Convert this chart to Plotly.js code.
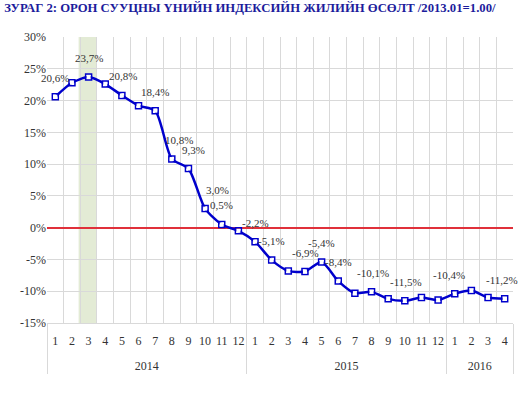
<!DOCTYPE html>
<html>
<head>
<meta charset="utf-8">
<script src="https://cdn.plot.ly/plotly-3.0.1.min.js"></script>
<style>html,body{margin:0;padding:0;background:#fff}#chart{width:526px;height:395px}</style>
</head>
<body>
<div id="chart"></div>
<script>
var years = ["2014","2014","2014","2014","2014","2014","2014","2014","2014","2014","2014","2014",
             "2015","2015","2015","2015","2015","2015","2015","2015","2015","2015","2015","2015",
             "2016","2016","2016","2016"];
var months = ["1","2","3","4","5","6","7","8","9","10","11","12",
              "1","2","3","4","5","6","7","8","9","10","11","12",
              "1","2","3","4"];
var growth = [20.6, 22.8, 23.7, 22.6, 20.8, 19.2, 18.4, 10.8, 9.3, 3.0, 0.5, -0.5,
              -2.2, -5.1, -6.8, -6.9, -5.4, -8.4, -10.3, -10.1, -11.2, -11.5, -11.0, -11.4,
              -10.4, -9.9, -11.0, -11.2];
var showLabel = [1,0,1,0,1,0,1,1,1,1,1,0,
                 1,1,0,1,1,1,0,1,0,1,0,0,
                 1,0,0,1];
var yTicks = [-15, -10, -5, 0, 5, 10, 15, 20, 25, 30];
var yTickText = ["-15%","-10%","-5%","0%","5%","10%","15%","20%","25%","30%"];
var highlightIndex = 2;

// label offsets (style only), in pixels
var labelDx = [0,0,0,0,1,0,0,7,5,12,0,0,
               0,0,0,1,0,0,0,1,0,1,0,0,
               -6,0,0,-3];

function fmt(v){ return v.toFixed(1).replace(".", ",") + "%"; }

var annotations = [];
for (var i = 0; i < growth.length; i++) {
  if (showLabel[i]) {
    annotations.push({
      x: i, y: growth[i], xref: "x", yref: "y",
      text: fmt(growth[i]), showarrow: false, yshift: 19, xshift: labelDx[i],
      font: {family: "Liberation Serif", size: 11, color: "#333"}
    });
  }
}

// second row pushed down one line for spacing like the original
var yearRow = years.map(function (y) { return "<br>" + y; });

var trace = {
  type: "scatter", mode: "lines+markers",
  x: [yearRow, months], y: growth,
  line: {color: "#0000CC", width: 2.5, shape: "spline", smoothing: 0.7},
  marker: {symbol: "square-open", size: 6, color: "#0000CC", line: {width: 1.5}},
  hoverinfo: "skip"
};
var fill = {
  type: "scatter", mode: "markers",
  x: [yearRow, months], y: growth,
  marker: {symbol: "square", size: 4, color: "#ffffff"},
  hoverinfo: "skip"
};

var layout = {
  width: 526, height: 395,
  margin: {l: 47, r: 13, t: 37, b: 72},
  paper_bgcolor: "#fff", plot_bgcolor: "#fff",
  showlegend: false,
  title: {text: "ЗУРАГ 2: ОРОН СУУЦНЫ ҮНИЙН ИНДЕКСИЙН ЖИЛИЙН ӨСӨЛТ /2013.01=1.00/",
          x: 0.008, xanchor: "left", y: 0.98, yanchor: "middle",
          font: {family: "Liberation Serif", size: 12.7, color: "#1C1C9C", weight: "bold"}},
  xaxis: {
    type: "multicategory", tickson: "boundaries", tickangle: 0, ticklabelstandoff: 7,
    showgrid: true, gridcolor: "#D9D9D9", gridwidth: 1,
    showline: true, linecolor: "#D9D9D9", linewidth: 1,
    ticks: "", showdividers: true, dividercolor: "#D9D9D9", dividerwidth: 1,
    tickfont: {family: "Liberation Serif", size: 12, color: "#333"},
    range: [-0.5, 27.5]
  },
  yaxis: {
    range: [-15, 30], tickvals: yTicks, ticktext: yTickText,
    showgrid: true, gridcolor: "#D9D9D9", gridwidth: 1,
    zeroline: true, zerolinecolor: "#E0303A", zerolinewidth: 2,
    showline: false, ticks: "",
    tickfont: {family: "Liberation Serif", size: 12, color: "#333"}
  },
  shapes: [{
    type: "rect", xref: "x", yref: "paper",
    x0: highlightIndex - 0.6, x1: highlightIndex + 0.5, y0: 0, y1: 1,
    fillcolor: "#E3EBD5", line: {width: 0}, layer: "below"
  }],
  annotations: annotations
};

Plotly.newPlot("chart", [trace, fill], layout, {displayModeBar: false, staticPlot: true});
</script>
</body>
</html>
